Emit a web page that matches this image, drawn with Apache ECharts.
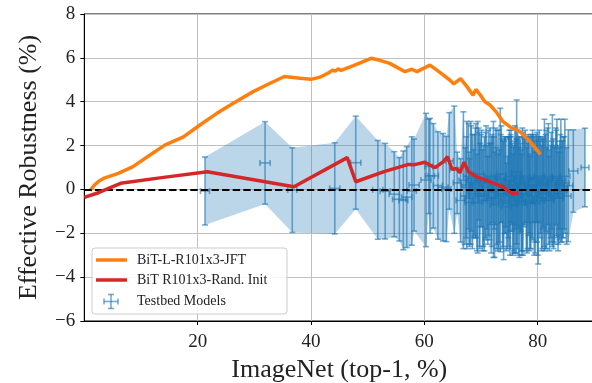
<!DOCTYPE html>
<html>
<head>
<meta charset="utf-8">
<script src="https://cdn.jsdelivr.net/npm/echarts@6/dist/echarts.min.js"></script>
<style>
  html, body { margin: 0; padding: 0; background: #fff; }
  #chart { width: 592px; height: 383px; }
</style>
</head>
<body>
<div id="chart"></div>
<script>
// BiT-L-R101x3 pre-trained on JFT: ImageNet accuracy vs effective robustness
const jftAcc = [1.0, 1.8, 2.6, 3.4, 6.0, 8.6, 11.6, 14.2, 17.5, 20.4, 23.4, 26.3, 29.8, 32.8, 35.3, 38.1, 40.0, 41.6, 43.0, 43.8, 44.3, 44.8, 45.3, 47.5, 50.6, 52.0, 53.9, 56.6, 57.8, 58.7, 61.0, 62.7, 64.5, 65.2, 66.4, 67.5, 68.6, 69.1, 70.1, 70.7, 71.6, 72.8, 73.9, 75.1, 76.9, 78.6, 80.5];
const jftEff = [-0.05, 0.2, 0.38, 0.5, 0.73, 1.04, 1.57, 2.02, 2.4, 2.94, 3.47, 3.93, 4.46, 4.84, 5.15, 5.07, 5.02, 5.12, 5.3, 5.44, 5.4, 5.5, 5.43, 5.65, 5.98, 5.9, 5.75, 5.37, 5.48, 5.37, 5.67, 5.35, 4.99, 4.81, 5.05, 4.7, 4.3, 4.56, 4.23, 4.0, 3.85, 3.5, 3.09, 2.86, 2.63, 2.2, 1.6];

// BiT R101x3 trained from random initialisation
const randAcc = [0.0, 2.5, 6.4, 14.0, 21.7, 37.0, 46.4, 47.9, 52.9, 57.2, 58.3, 60.1, 61.9, 63.3, 64.1, 64.9, 65.7, 66.3, 67.0, 67.8, 69.2, 73.9, 75.4, 76.6];
const randEff = [-0.36, -0.15, 0.28, 0.55, 0.81, 0.12, 1.45, 0.35, 0.81, 1.14, 1.13, 1.24, 0.99, 1.26, 1.49, 0.92, 0.95, 0.76, 1.24, 0.81, 0.58, 0.12, -0.18, -0.18];

// Testbed models with error in both directions
const testAcc = [21.3, 31.9, 36.7, 44.2, 47.9, 51.8, 53.1, 54.7, 55.6, 56.3, 56.9, 57.8, 58.2, 60.3, 60.8, 61.0, 61.6, 62.4, 63.3, 63.9, 64.4, 65.3, 65.8, 66.4, 66.9, 67.5, 68.2, 68.5, 69.1, 69.4, 69.8, 70.1, 70.6, 71.1, 71.3, 71.8, 72.2, 72.6, 73.0, 73.4, 73.8, 74.2, 74.5, 74.8, 75.1, 75.4, 75.7, 76.0, 76.3, 76.6, 76.9, 77.2, 77.6, 78.0, 78.3, 78.6, 79.0, 79.4, 79.8, 80.1, 80.5, 80.8, 81.2, 81.6, 81.9, 82.3, 82.6, 83.0, 83.4, 83.8, 84.1, 84.5, 84.8, 85.4, 86.3, 88.35,
  67.2, 67.8, 68.0, 68.8, 69.6, 70.3, 70.9, 71.5, 72.0, 72.4, 72.8, 73.2, 73.6, 74.0, 74.4, 74.9, 75.3, 75.6, 75.9, 76.2, 76.5, 76.8, 77.0, 77.4, 77.8, 78.1, 78.5, 78.8, 79.2, 79.6, 79.9, 80.3, 80.7, 81.0, 81.4, 81.8, 82.1, 82.5, 82.8, 83.2, 83.6, 83.9, 84.3, 84.7, 85.1,
  67.4, 67.9, 68.3, 68.7, 69.0, 69.3, 69.7, 70.0, 70.4, 70.8, 71.2, 71.6, 71.9, 72.3, 72.7, 73.1, 73.5, 73.9, 74.3, 74.7, 75.0, 75.2, 75.5, 75.8, 76.1, 76.4, 76.7, 77.1, 77.3, 77.7, 78.2, 78.4, 78.7, 79.1, 79.5, 79.7, 80.0, 80.4, 80.9, 81.1, 81.5, 82.0, 82.4, 82.9, 83.3, 83.7, 84.0, 84.4];
const testEff = [-0.07, 1.21, -0.03, 0.05, 1.22, -0.02, -0.08, -0.22, -0.45, -0.5, -0.35, -0.07, 0.2, 0.43, 1.05, 0.62, 0.62, 0.18, 0.1, 0.02, 1.3, 0.9, 0.3, -0.5, 0.42, 0.2, 0.3, -0.1, 0.4, 0.1, -0.3, 0.5, -0.2, 0.1, 0.3, -0.4, 0.0, 0.6, -0.6, 0.43, -0.2, 0.2, -0.8, 0.1, -0.3, 0.4, -0.5, 0.0, 0.8, -0.4, 0.2, -0.7, 0.3, -0.2, 0.5, -0.6, 0.1, -0.3, 0.4, -0.5, 0.2, -0.2, 0.2, -0.4, 0.5, -0.1, 0.4, -0.3, 0.5, -0.2, 0.4, 0.1, 0.6, 0.17, 0.84, 1.0,
  -0.3, 0.6, -0.6, 0.2, 0.7, -0.5, 0.3, -0.1, 0.5, -0.7, 0.1, -0.3, 0.7, -0.5, 0.3, -0.1, 0.6, -0.7, 0.2, -0.3, 0.5, -0.6, 0.1, -0.2, 0.6, -0.5, 0.2, -0.1, 0.5, -0.6, 0.1, 0.6, -0.4, 0.3, -0.1, 0.6, -0.5, 0.2, -0.2, 0.6, -0.4, 0.2, -0.1, 0.3, -0.3,
  0.1, -0.4, 0.5, -0.2, 0.3, -0.6, 0.0, 0.4, -0.3, 0.2, -0.5, 0.6, -0.1, 0.3, -0.4, 0.0, 0.5, -0.2, 0.2, -0.6, 0.4, -0.1, 0.1, -0.4, 0.6, -0.2, 0.3, -0.5, 0.0, 0.4, -0.3, 0.1, -0.6, 0.2, -0.1, 0.5, -0.4, 0.0, 0.3, -0.2, 0.4, -0.5, 0.1, -0.2, 0.3, -0.4, 0.2, 0.0];
const testAccErr = [0.8, 0.9, 0.8, 0.9, 0.9, 0.9, 0.9, 0.9, 1.2, 0.8, 0.9, 0.8, 0.9, 0.9, 0.7, 0.8, 0.9, 0.8, 0.9, 0.8, 0.7, 0.8, 0.7, 0.8, 0.8, 0.9, 0.8, 0.9, 0.8, 0.9, 0.8, 0.9, 0.8, 0.9, 0.8, 0.8, 0.9, 0.8, 0.8, 0.9, 0.8, 0.8, 0.9, 0.8, 0.8, 0.9, 0.8, 0.8, 0.9, 0.8, 0.8, 0.9, 0.8, 0.8, 0.9, 0.8, 0.8, 0.9, 0.8, 0.8, 0.9, 0.8, 0.8, 0.9, 0.8, 0.8, 0.9, 0.8, 0.8, 0.9, 0.8, 0.8, 0.9, 0.8, 0.8, 0.7,
  0.8, 0.9, 0.8, 0.8, 0.9, 0.8, 0.8, 0.9, 0.8, 0.8, 0.9, 0.8, 0.8, 0.9, 0.8, 0.8, 0.9, 0.8, 0.8, 0.9, 0.8, 0.8, 0.9, 0.8, 0.8, 0.9, 0.8, 0.8, 0.9, 0.8, 0.8, 0.9, 0.8, 0.8, 0.9, 0.8, 0.8, 0.9, 0.8, 0.8, 0.9, 0.8, 0.8, 0.9, 0.8,
  0.8, 0.7, 0.9, 0.8, 0.7, 0.9, 0.8, 0.7, 0.9, 0.8, 0.7, 0.9, 0.8, 0.7, 0.9, 0.8, 0.7, 0.9, 0.8, 0.7, 0.9, 0.8, 0.7, 0.9, 0.8, 0.7, 0.9, 0.8, 0.7, 0.9, 0.8, 0.7, 0.9, 0.8, 0.7, 0.9, 0.8, 0.7, 0.9, 0.8, 0.7, 0.9, 0.8, 0.7, 0.9, 0.8, 0.7, 0.9];
const testEffErr = [1.55, 1.88, 1.93, 2.08, 2.12, 2.25, 2.18, 1.94, 1.9, 2.25, 2.3, 2.47, 2.1, 3.04, 2.15, 2.62, 2.38, 2.45, 2.45, 2.4, 2.2, 2.9, 1.4, 1.9, 3.12, 2.9, 2.8, 2.6, 2.6, 3.0, 2.4, 2.2, 2.6, 1.9, 2.4, 2.5, 3.1, 2.2, 2.2, 3.27, 2.5, 2.2, 2.0, 2.3, 2.7, 2.0, 2.4, 2.9, 3.28, 2.6, 2.2, 2.3, 2.0, 2.6, 2.0, 2.2, 2.3, 2.7, 1.9, 2.9, 2.2, 2.5, 3.0, 2.3, 2.5, 2.1, 3.0, 2.2, 2.7, 2.1, 2.8, 2.3, 2.6, 2.55, 1.88, 1.79,
  2.2, 2.4, 2.0, 2.3, 2.1, 2.3, 2.6, 2.2, 2.0, 2.4, 2.6, 2.1, 2.2, 2.7, 2.0, 2.5, 2.1, 2.3, 2.0, 2.6, 2.2, 2.5, 2.0, 2.8, 2.1, 2.4, 2.2, 2.6, 2.0, 2.3, 2.5, 2.1, 2.4, 2.0, 2.6, 2.2, 2.3, 2.0, 2.5, 2.2, 2.4, 2.0, 2.3, 2.1, 2.2,
  2.3, 2.1, 2.4, 2.0, 2.5, 2.2, 2.6, 2.1, 2.3, 2.4, 2.0, 2.2, 2.5, 2.1, 2.3, 2.7, 2.0, 2.4, 2.2, 2.1, 2.3, 2.6, 2.0, 2.4, 2.2, 2.5, 2.1, 2.3, 2.8, 2.0, 2.4, 2.2, 2.1, 2.5, 2.3, 2.0, 2.6, 2.2, 2.1, 2.4, 2.3, 2.0, 2.5, 2.2, 2.4, 2.1, 2.3, 2.2];

const xTicks = [20, 40, 60, 80];
const yTicks = [-6, -4, -2, 0, 2, 4, 6, 8];

const legendNames = ['BiT-L-R101x3-JFT', 'BiT R101x3-Rand. Init', 'Testbed Models'];

const ORANGE = '#ff7f0e';
const RED = '#d62728';
const BLUE_BAR = 'rgba(31,119,180,0.62)';
const BLUE_BAND = 'rgba(31,119,180,0.3)';
const FONT = 'Liberation Serif';

const pairs = (xs, ys) => xs.map((x, i) => [x, ys[i]]);
const testData = testAcc.map((x, i) => [x, testEff[i], testAccErr[i], testEffErr[i]]);
// model indices ordered by accuracy, for the envelope outline
const order = testAcc.map((_, i) => i).sort((a, b) => testAcc[a] - testAcc[b]);

// Shaded envelope between the lower and upper error bounds of the testbed models
function renderBand(params, api) {
  const upper = order.map(i => api.coord([testAcc[i], testEff[i] + testEffErr[i]]));
  const lower = order.map(i => api.coord([testAcc[i], testEff[i] - testEffErr[i]])).reverse();
  return {
    type: 'polygon',
    shape: { points: upper.concat(lower) },
    style: { fill: BLUE_BAND },
    silent: true
  };
}

// One cross-shaped error bar with caps per testbed model
function renderErrorBar(params, api) {
  const x = api.value(0), y = api.value(1), ex = api.value(2), ey = api.value(3);
  const top = api.coord([x, y + ey]);
  const bot = api.coord([x, y - ey]);
  const lef = api.coord([x - ex, y]);
  const rig = api.coord([x + ex, y]);
  const c = 3;
  const style = { stroke: BLUE_BAR, lineWidth: 1.6 };
  const seg = (x1, y1, x2, y2) => ({ type: 'line', shape: { x1, y1, x2, y2 }, style });
  return {
    type: 'group',
    children: [
      seg(top[0], top[1], bot[0], bot[1]),
      seg(top[0] - c, top[1], top[0] + c, top[1]),
      seg(bot[0] - c, bot[1], bot[0] + c, bot[1]),
      seg(lef[0], lef[1], rig[0], rig[1]),
      seg(lef[0], lef[1] - c, lef[0], lef[1] + c),
      seg(rig[0], rig[1] - c, rig[0], rig[1] + c)
    ]
  };
}

const chart = echarts.init(document.getElementById('chart'), null, { renderer: 'canvas' });

const minus = v => String(v).replace('-', '\u2212');

const gridLeft = 84.3, gridTop = 14, gridW = 510, gridH = 307;

// Legend drawn as a framed box in the lower-left corner of the plot
const legX = 92, legY = 248;
const barLine = (x1, y1, x2, y2) => ({ type: 'line', shape: { x1, y1, x2, y2 }, style: { stroke: BLUE_BAR, lineWidth: 1.6 }, z: 101 });
const legendGraphic = [
  { type: 'rect', shape: { x: legX, y: legY, width: 195, height: 66, r: 3 },
    style: { fill: 'rgba(255,255,255,0.85)', stroke: '#cccccc', lineWidth: 1 }, z: 100 },
  { type: 'line', shape: { x1: legX + 4, y1: legY + 12, x2: legX + 35, y2: legY + 12 },
    style: { stroke: ORANGE, lineWidth: 3.5 }, z: 101 },
  { type: 'line', shape: { x1: legX + 4, y1: legY + 32, x2: legX + 35, y2: legY + 32 },
    style: { stroke: RED, lineWidth: 3.5 }, z: 101 },
  barLine(legX + 19, legY + 46.5, legX + 19, legY + 60.5),
  barLine(legX + 16, legY + 46.5, legX + 22, legY + 46.5),
  barLine(legX + 16, legY + 60.5, legX + 22, legY + 60.5),
  barLine(legX + 12, legY + 53.5, legX + 26, legY + 53.5),
  barLine(legX + 12, legY + 50.5, legX + 12, legY + 56.5),
  barLine(legX + 26, legY + 50.5, legX + 26, legY + 56.5),
  ...legendNames.map((name, i) => ({
    type: 'text', x: legX + 45, y: legY + 12 + i * 20.5, z: 101,
    style: { text: name, font: '14px "' + FONT + '"', fill: '#222', verticalAlign: 'middle', align: 'left' }
  }))
];

chart.setOption({
  animation: false,
  backgroundColor: '#fff',
  textStyle: { fontFamily: FONT },
  grid: {
    left: gridLeft, top: gridTop, width: gridW, height: gridH,
    containLabel: false, outerBoundsMode: 'none',
    show: true, borderColor: '#000', borderWidth: 1, backgroundColor: 'transparent'
  },
  xAxis: {
    type: 'value', min: 0, max: 90, interval: 20,
    name: 'ImageNet (top-1, %)', nameLocation: 'middle', nameGap: 33,
    nameTextStyle: { fontSize: 26, color: '#222', fontFamily: FONT },
    axisLine: { show: true, onZero: false, lineStyle: { color: '#000', width: 1 } },
    axisTick: { show: true, length: 4, lineStyle: { color: '#000' }, customValues: xTicks },
    axisLabel: { fontSize: 19, color: '#222', margin: 12, fontFamily: FONT, customValues: xTicks },
    splitLine: { show: true, lineStyle: { color: '#c0c0c0', width: 1 } }
  },
  yAxis: {
    type: 'value', min: -6, max: 8, interval: 2,
    name: 'Effective Robustness (%)', nameLocation: 'middle', nameGap: 42, nameRotate: 90,
    nameTextStyle: { fontSize: 26, color: '#222', fontFamily: FONT },
    axisLine: { show: true, onZero: false, lineStyle: { color: '#000', width: 1 } },
    axisTick: { show: true, length: 4, lineStyle: { color: '#000' }, customValues: yTicks },
    axisLabel: { fontSize: 19, color: '#222', margin: 9, fontFamily: FONT, customValues: yTicks,
      formatter: v => minus(v) },
    splitLine: { show: true, lineStyle: { color: '#c0c0c0', width: 1 } }
  },
  graphic: legendGraphic,
  series: [
    { name: 'band', type: 'custom', renderItem: renderBand, data: [[testAcc[0], testEff[0]]], z: 1, silent: true },
    { name: legendNames[2], type: 'custom', renderItem: renderErrorBar, data: testData,
      encode: { x: 0, y: 1 }, z: 2, silent: true },
    { name: 'zero', type: 'line', data: [], z: 3,
      markLine: { silent: true, symbol: 'none', label: { show: false },
        lineStyle: { color: '#000', type: [7.4, 3.2], width: 2 },
        data: [{ yAxis: 0 }] } },
    { name: legendNames[0], type: 'line', data: pairs(jftAcc, jftEff), showSymbol: false,
      lineStyle: { color: ORANGE, width: 3.5 }, itemStyle: { color: ORANGE }, z: 4, silent: true },
    { name: legendNames[1], type: 'line', data: pairs(randAcc, randEff), showSymbol: false,
      lineStyle: { color: RED, width: 3.5 }, itemStyle: { color: RED }, z: 5, silent: true }
  ]
});
</script>
</body>
</html>
